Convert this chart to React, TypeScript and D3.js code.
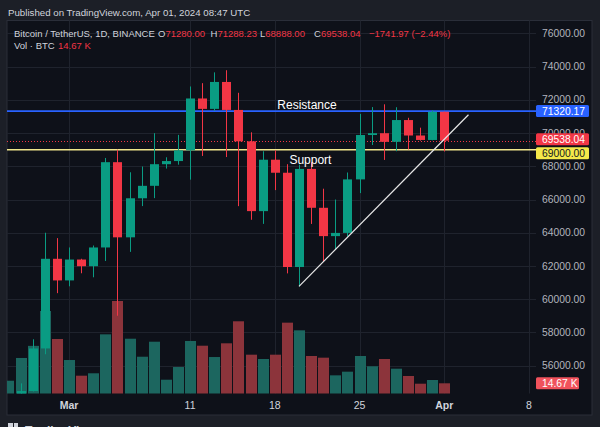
import React from 'react';
import * as d3 from 'd3';

// ---- Data (BTC / USDT daily, Binance) ----
const dates = [
  '2024-02-25', '2024-02-26', '2024-02-27', '2024-02-28', '2024-02-29',
  '2024-03-01', '2024-03-02', '2024-03-03', '2024-03-04', '2024-03-05',
  '2024-03-06', '2024-03-07', '2024-03-08', '2024-03-09', '2024-03-10',
  '2024-03-11', '2024-03-12', '2024-03-13', '2024-03-14', '2024-03-15',
  '2024-03-16', '2024-03-17', '2024-03-18', '2024-03-19', '2024-03-20',
  '2024-03-21', '2024-03-22', '2024-03-23', '2024-03-24', '2024-03-25',
  '2024-03-26', '2024-03-27', '2024-03-28', '2024-03-29', '2024-03-30',
  '2024-03-31', '2024-04-01',
];
const opens = [
  51565.2, 51733.2, 54476.5, 57037.3, 62432.1,
  61130.98, 62387.9, 61987.28, 63113.97, 68245.71,
  63724.01, 66074.04, 66823.18, 68124.2, 68313.28,
  68955.88, 72078.49, 71452.0, 73072.4, 71388.94,
  69499.84, 65300.64, 68393.47, 67610.0, 61937.41,
  67840.51, 65501.28, 63796.64, 63990.02, 67210.0,
  69880.0, 69988.0, 69469.99, 70780.6, 69850.53,
  69582.17, 71280.0,
];
const highs = [
  51950.0, 54938.0, 57588.2, 64000.0, 63676.4,
  63114.23, 62433.19, 63231.88, 68499.0, 69000.0,
  67637.93, 67985.0, 69990.0, 68541.1, 69887.61,
  72800.0, 73000.0, 73650.25, 73777.0, 72419.71,
  70043.0, 68904.4, 68956.0, 68124.11, 68100.0,
  68240.47, 66649.62, 65999.0, 67624.99, 71150.0,
  71561.1, 71727.7, 71552.06, 70916.16, 70321.1,
  71366.0, 71288.23,
];
const lows = [
  51306.0, 50901.0, 54450.0, 56690.0, 60364.7,
  60777.0, 61561.12, 61320.0, 62300.0, 59005.0,
  62848.67, 65602.48, 66082.66, 67861.1, 68094.75,
  67194.0, 68620.82, 71333.31, 68555.0, 65600.0,
  64780.0, 64533.0, 66565.2, 61555.0, 60775.0,
  64529.01, 62260.0, 63000.0, 63772.2, 66385.06,
  69280.0, 68381.17, 68903.62, 69009.0, 69540.0,
  69562.99, 68888.0,
];
const closes = [
  51733.2, 54476.5, 57037.3, 62432.1, 61130.98,
  62387.9, 61987.28, 63113.97, 68245.71, 63724.01,
  66074.04, 66823.17, 68124.19, 68313.27, 68955.88,
  72078.48, 71452.01, 73072.41, 71388.94, 69499.85,
  65300.63, 68393.48, 67609.99, 61937.4, 67840.51,
  65501.27, 63796.64, 63990.01, 67209.99, 69880.01,
  69988.0, 69469.99, 70780.6, 69850.54, 69582.18,
  71280.01, 69538.04,
];
const volumesK = [
  18.2, 49.4, 66.0, 113.8, 75.4,
  46.6, 25.1, 28.4, 81.8, 127.5,
  75.8, 51.1, 71.7, 19.6, 37.0,
  72.7, 66.2, 50.7, 69.5, 99.7,
  53.9, 48.0, 53.9, 97.8, 87.3,
  52.1, 49.8, 25.6, 30.6, 52.1,
  38.0, 48.0, 34.7, 24.7, 14.1,
  19.2, 14.67,
];

const priceTicks = [56000, 58000, 60000, 62000, 64000, 66000, 68000, 70000, 72000, 74000, 76000];
const timeTickDates = ['2024-03-01', '2024-03-11', '2024-03-18', '2024-03-25', '2024-04-01', '2024-04-08'];
const timeTickLabels = ['Mar', '11', '18', '25', 'Apr', '8'];
const timeTickIsMonth = [true, false, false, false, true, false];

const resistancePrice = 71320.17;
const supportPrice = 69000;
const trendDates = ['2024-03-20', '2024-04-03'];
const trendPrices = [60775, 71100];
const annotationTexts = ['Resistance', 'Support'];
const annotationDates = ['2024-03-18T05:00', '2024-03-19T05:00'];
const annotationPrices = [71320.17, 69000];

const legendTitle = 'Bitcoin / TetherUS, 1D, BINANCE';
const legendChange = '\u22121741.97 (\u22122.44%)';

// ---- Layout ----
const W = 600;
const H = 427;
const panel = { left: 7, top: 20.5, right: 592, bottom: 415 };
const plot = { left: 7, top: 20.5, right: 536, bottom: 393.5 };

const FONT = '"Liberation Sans", Arial, Helvetica, sans-serif';
const UP = '#0a9c83';
const DOWN = '#f23645';
const VOL_UP = '#1c665f';
const VOL_DOWN = '#8c343b';
const GRID = '#1f232d';
const TEXT = '#d1d4dc';
const AXIS_TEXT = '#b2b5be';

const parse = (s: string) => new Date(s + (s.length === 10 ? 'T00:00:00Z' : ':00Z'));

export default function App() {
  const x = d3
    .scaleUtc()
    .domain([parse('2024-03-01'), parse('2024-04-08')])
    .range([69, 529]);
  const y = d3.scaleLinear().domain([56000, 76000]).range([365.7, 33.3]);
  const yVol = d3.scaleLinear().domain([0, 150]).range([394, 394 - 150 / 1.371]);

  const candles = dates.map((d, i) => ({
    date: parse(d),
    o: opens[i],
    h: highs[i],
    l: lows[i],
    c: closes[i],
    v: volumesK[i],
  }));

  const lastClose = closes[closes.length - 1];
  const lastVol = volumesK[volumesK.length - 1];
  const lastUp = lastClose >= opens[opens.length - 1];

  const crisp = (v: number) => Math.round(v) + 0.5;

  const plate = (cy: number, label: string, bg: string, fg: string, width = 53) => (
    <g>
      <rect x={536} y={cy - 6} width={width} height={12} rx={1.5} fill={bg} />
      <text x={542} y={cy} dy="0.36em" fontSize={10.3} fill={fg} fontFamily={FONT}>
        {label}
      </text>
    </g>
  );

  const trendLine = d3
    .line<[Date, number]>()
    .x((d) => x(d[0]))
    .y((d) => y(d[1]));
  const trendPts: [Date, number][] = trendDates.map((d, i) => [parse(d), trendPrices[i]]);

  return (
    <svg
      width={W}
      height={H}
      viewBox={`0 0 ${W} ${H}`}
      style={{ position: 'absolute', left: 0, top: 0, display: 'block' }}
    >
      <defs>
        <clipPath id="plotClip">
          <rect x={plot.left} y={plot.top} width={plot.right - plot.left} height={plot.bottom - plot.top} />
        </clipPath>
      </defs>
      {/* outer frame */}
      <rect x={0} y={0} width={W} height={H} fill="#1c1f27" />
      <text x={8} y={16} fontSize={9.7} fill={TEXT} fontFamily={FONT}>
        Published on TradingView.com, Apr 01, 2024 08:47 UTC
      </text>
      {/* panel */}
      <rect
        x={panel.left}
        y={panel.top}
        width={panel.right - panel.left}
        height={panel.bottom - panel.top}
        fill="#0e1119"
        stroke="#2a2e39"
        strokeWidth={1}
      />

      {/* grid */}
      <g>
        {priceTicks.map((p) => (
          <line key={'h' + p} x1={plot.left} x2={plot.right} y1={crisp(y(p))} y2={crisp(y(p))} stroke={GRID} />
        ))}
        {timeTickDates.map((d) => (
          <line
            key={'v' + d}
            x1={crisp(x(parse(d)))}
            x2={crisp(x(parse(d)))}
            y1={plot.top}
            y2={plot.bottom}
            stroke={GRID}
          />
        ))}
      </g>

      <g clipPath="url(#plotClip)">
        {/* volume */}
        {candles.map((d, i) => {
          const cx = Math.round(x(d.date));
          const up = d.c >= d.o;
          return (
            <rect
              key={'vol' + i}
              x={cx - 5}
              y={yVol(d.v)}
              width={11}
              height={yVol(0) - yVol(d.v)}
              fill={up ? VOL_UP : VOL_DOWN}
            />
          );
        })}

        {/* horizontal levels */}
        <line x1={plot.left} x2={plot.right} y1={y(resistancePrice)} y2={y(resistancePrice)} stroke="#2962ff" strokeWidth={1.8} />
        <line
          x1={plot.left}
          x2={plot.right}
          y1={crisp(y(lastClose))}
          y2={crisp(y(lastClose))}
          stroke={DOWN}
          strokeWidth={1}
          strokeDasharray="1 2"
        />
        <line x1={plot.left} x2={plot.right} y1={y(supportPrice)} y2={y(supportPrice)} stroke="#f0e68c" strokeWidth={1.5} />

        {/* candles */}
        {candles.map((d, i) => {
          const cx = Math.round(x(d.date));
          const up = d.c >= d.o;
          const color = up ? UP : DOWN;
          const top = y(Math.max(d.o, d.c));
          const bot = y(Math.min(d.o, d.c));
          return (
            <g key={'c' + i}>
              <line x1={cx + 0.5} x2={cx + 0.5} y1={y(d.h)} y2={y(d.l)} stroke={color} strokeWidth={1} />
              <rect x={cx - 4} y={top} width={9} height={Math.max(1, bot - top)} fill={color} />
            </g>
          );
        })}

        {/* trend line */}
        <path d={trendLine(trendPts) || ''} stroke="#e8e8e8" strokeWidth={1.2} fill="none" />

        {/* annotations */}
        {annotationTexts.map((t, i) => (
          <text
            key={t}
            x={x(parse(annotationDates[i]))}
            y={y(annotationPrices[i]) + (i === 0 ? -2.5 : 14)}
            fontSize={12}
            fill="#ffffff"
            fontFamily={FONT}
          >
            {t}
          </text>
        ))}
      </g>

      {/* legend */}
      <g fontFamily={FONT} fontSize={9.5}>
        <text x={14} y={36.5} fill={TEXT}>{legendTitle}</text>
        <text x={158} y={36.5}>
          <tspan fill={TEXT}>O</tspan>
          <tspan fill={DOWN}>{opens[opens.length - 1].toFixed(2)}</tspan>
        </text>
        <text x={210.5} y={36.5}>
          <tspan fill={TEXT}>H</tspan>
          <tspan fill={DOWN}>{highs[highs.length - 1].toFixed(2)}</tspan>
        </text>
        <text x={260} y={36.5}>
          <tspan fill={TEXT}>L</tspan>
          <tspan fill={DOWN}>{lows[lows.length - 1].toFixed(2)}</tspan>
        </text>
        <text x={314} y={36.5}>
          <tspan fill={TEXT}>C</tspan>
          <tspan fill={DOWN}>{lastClose.toFixed(2)}</tspan>
        </text>
        <text x={369} y={36.5} fill={DOWN}>{legendChange}</text>
        <text x={14} y={49} fill={TEXT}>Vol · BTC</text>
        <text x={58} y={49} fill={DOWN}>{lastVol.toFixed(2)} K</text>
      </g>

      {/* price axis labels */}
      <g fontFamily={FONT} fontSize={10.3} fill={AXIS_TEXT}>
        {priceTicks.map((p) => (
          <text key={'pl' + p} x={542} y={y(p)} dy="0.36em">
            {p.toFixed(2)}
          </text>
        ))}
      </g>
      {plate(y(resistancePrice), resistancePrice.toFixed(2), '#2962ff', '#ffffff')}
      {plate(y(lastClose) - 1.5, lastClose.toFixed(2), lastUp ? UP : DOWN, '#ffffff')}
      {plate(y(supportPrice) + 3.5, supportPrice.toFixed(2), '#f5e94a', '#131722')}
      {plate(yVol(lastVol), `${lastVol.toFixed(2)} K`, '#f0525c', '#ffffff', 43)}

      {/* time axis labels */}
      <g fontFamily={FONT} fontSize={10.5} fill={TEXT} textAnchor="middle">
        {timeTickDates.map((d, i) => (
          <text key={'tl' + d} x={x(parse(d))} y={409} fontWeight={timeTickIsMonth[i] ? 'bold' : 'normal'}>
            {timeTickLabels[i]}
          </text>
        ))}
      </g>

      {/* footer logo (cut off) */}
      <g fill={TEXT} fontFamily={FONT}>
        <rect x={8} y={423} width={5} height={4} />
        <rect x={14} y={423} width={4} height={4} />
        <text x={25} y={435} fontSize={12} fontWeight="bold">TradingView</text>
      </g>
    </svg>
  );
}
